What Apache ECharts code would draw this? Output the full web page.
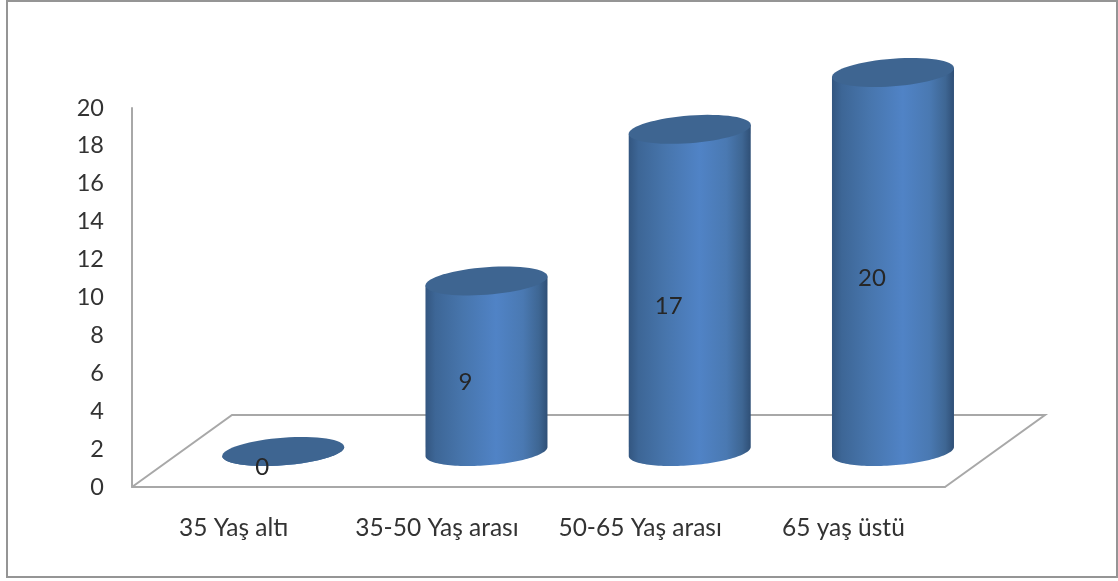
<!DOCTYPE html>
<html>
<head>
<meta charset="utf-8">
<style>html,body{margin:0;padding:0;background:#fff}#chart{width:1118px;height:581px}</style>
<script src="https://cdn.jsdelivr.net/npm/echarts@6/dist/echarts.min.js"></script>
</head>
<body>
<div id="chart"></div>
<script>
// Age groups and their counts
const categories = ['35 Yaş altı', '35-50 Yaş arası', '50-65 Yaş arası', '65 yaş üstü'];
const counts = [0, 9, 17, 20];
const yTicks = { min: 0, max: 20, step: 2 };

// Pseudo-3D look: the cylinders stand on a floor receding up and to the right
const FONT = 'Lato, "Noto Sans", sans-serif';
const AXIS_GREY = '#a8a8a8';
const FLOOR_DX = 100, FLOOR_DY = -72;
const BAR_DX = 49.6, BAR_DY = -35.5;
const RX = 61, RY = 13.8, TILT = 4.5;
const CAP_COLOR = '#3e6591';
const SIDE_GRADIENT = {
  type: 'linear', x: 0, y: 0, x2: 1, y2: 0,
  colorStops: [
    { offset: 0, color: '#335680' },
    { offset: 0.08, color: '#3d6696' },
    { offset: 0.3, color: '#4775ac' },
    { offset: 0.58, color: '#5083c6' },
    { offset: 0.8, color: '#4a79b2' },
    { offset: 0.93, color: '#3e6693' },
    { offset: 1, color: '#2f4f76' }
  ]
};

// Point on a slightly tilted ellipse around (cx, cy)
function rim(cx, cy, t) {
  return [cx + RX * Math.cos(t), cy + RY * Math.sin(t) - TILT * Math.cos(t)];
}

function arc(cx, cy, from, to) {
  const pts = [];
  const n = 64;
  for (let i = 0; i <= n; i++) pts.push(rim(cx, cy, from + (to - from) * i / n));
  return pts;
}

function renderCylinder(params, api) {
  const base = api.coord([api.value(0), 0]);
  const top = api.coord([api.value(0), api.value(1)]);
  const cx = base[0] + BAR_DX;
  const baseY = base[1] + BAR_DY;
  const topY = top[1] + BAR_DY;
  const side = [rim(cx, topY, Math.PI), rim(cx, topY, 0)].concat(arc(cx, baseY, 0, Math.PI));
  return {
    type: 'group',
    children: [
      { type: 'polygon', shape: { points: side }, style: { fill: SIDE_GRADIENT }, silent: true },
      { type: 'polygon', shape: { points: arc(cx, topY, 0, Math.PI * 2) }, style: { fill: CAP_COLOR }, silent: true },
      {
        type: 'text',
        silent: true,
        style: {
          x: cx - 21, y: (baseY + topY) / 2 + 16,
          text: String(api.value(1)),
          fill: '#262626', font: '24px ' + FONT,
          align: 'center', verticalAlign: 'middle'
        }
      }
    ]
  };
}

function renderFloor(params, api) {
  const r = params.coordSys;
  const left = r.x, right = r.x + r.width, y = r.y + r.height;
  return {
    type: 'polyline',
    silent: true,
    shape: { points: [[left, y], [left + FLOOR_DX, y + FLOOR_DY], [right + FLOOR_DX, y + FLOOR_DY], [right, y]] },
    style: { fill: null, stroke: AXIS_GREY, lineWidth: 2 }
  };
}

const chart = echarts.init(document.getElementById('chart'), null, { renderer: 'canvas' });
chart.setOption({
  animation: false,
  backgroundColor: '#fff',
  graphic: [{
    type: 'rect',
    silent: true,
    shape: { x: 7, y: 1, width: 1110, height: 576 },
    style: { fill: null, stroke: '#959595', lineWidth: 2 }
  }],
  grid: { left: 132, right: 173, top: 108, bottom: 94 },
  xAxis: {
    type: 'category',
    data: categories,
    axisLine: { lineStyle: { color: AXIS_GREY, width: 2 } },
    axisTick: { show: false },
    axisLabel: { color: '#333', fontFamily: FONT, fontSize: 24.5, margin: 29, interval: 0 }
  },
  yAxis: {
    type: 'value',
    min: yTicks.min,
    max: yTicks.max,
    interval: yTicks.step,
    splitLine: { show: false },
    axisLine: { show: true, lineStyle: { color: AXIS_GREY, width: 2 } },
    axisTick: { show: false },
    axisLabel: { color: '#333', fontFamily: FONT, fontSize: 23.5, margin: 28, padding: [4, 0, 0, 0] }
  },
  series: [
    { type: 'custom', z: 1, clip: false, silent: true, data: [[0, 0]], renderItem: renderFloor },
    {
      type: 'custom', z: 2, clip: false, silent: true,
      encode: { x: 0, y: 1 },
      data: counts.map((v, i) => [i, v]),
      renderItem: renderCylinder
    }
  ]
});
</script>
</body>
</html>
